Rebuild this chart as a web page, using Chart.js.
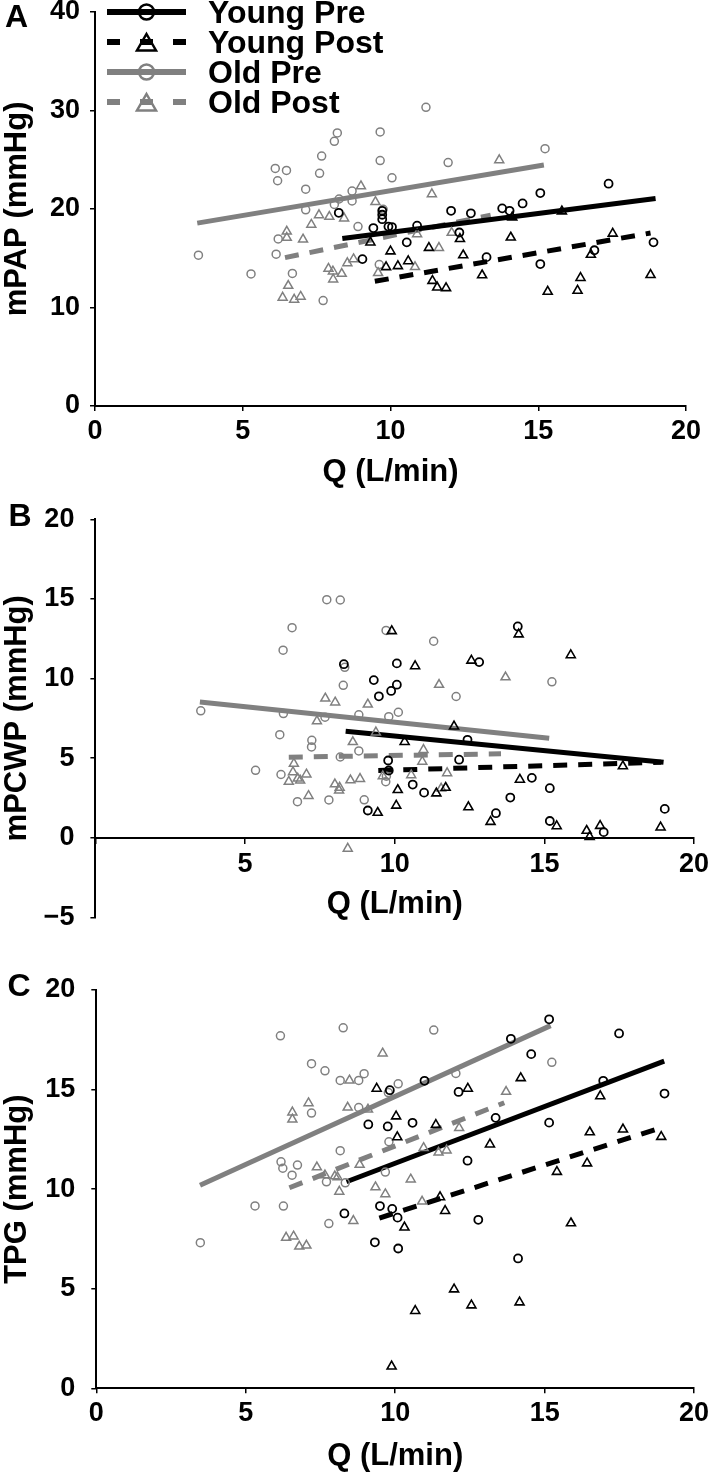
<!DOCTYPE html>
<html>
<head>
<meta charset="utf-8">
<script src="https://cdn.jsdelivr.net/npm/chart.js@4.4.1/dist/chart.umd.min.js"></script>
<style>
  html, body { margin: 0; padding: 0; background: #fff; overflow: hidden; }
  #wrap { position: relative; width: 709px; height: 1473px; }
  #wrap canvas { position: absolute; left: 0; }
</style>
</head>
<body>
<div id="wrap">
  <canvas id="chartA" width="709" height="488" style="top:0px"></canvas>
  <canvas id="chartB" width="709" height="480" style="top:480px"></canvas>
  <canvas id="chartC" width="709" height="512" style="top:960px"></canvas>
</div>
<script>
// series order: Young Pre, Young Post, Old Pre, Old Post
const seriesNames = ['Young Pre', 'Young Post', 'Old Pre', 'Old Post'];

// panel A - mPAP vs Q, points are [Q, value]
const mpapYoungPre = [[8.25,19.6],[9.05,14.9],[9.42,18.05],[9.72,19.8],[9.72,19.4],[9.72,18.95],[9.93,18.2],[10.05,18.15],[10.55,16.6],[10.9,18.3],[12.05,19.8],[12.33,17.6],[12.72,19.55],[13.25,15.1],[13.78,20.05],[14.03,19.8],[14.47,20.55],[15.07,21.6],[15.07,14.4],[16.9,15.8],[17.38,22.55],[18.9,16.6]];
const mpapYoungPost = [[9.32,16.6],[9.85,14.1],[10.0,15.7],[10.25,14.2],[10.6,14.7],[11.3,16.05],[11.42,12.7],[11.58,12.03],[11.88,11.97],[12.35,16.95],[12.46,15.3],[13.1,13.27],[14.07,17.1],[14.12,19.15],[15.32,11.6],[15.8,19.75],[16.33,11.7],[16.43,13.0],[16.78,15.35],[17.52,17.5],[18.8,13.3]];
const mpapOldPre = [[3.5,15.3],[5.28,13.4],[6.1,24.1],[6.18,22.85],[6.48,23.9],[6.2,16.95],[6.13,15.4],[6.68,13.45],[7.13,22.0],[7.13,19.9],[7.6,23.6],[7.67,25.35],[7.72,10.7],[8.1,26.85],[8.2,27.7],[8.1,20.45],[8.26,21.0],[8.7,21.8],[8.7,20.8],[8.9,18.2],[9.65,27.8],[9.65,24.9],[10.05,23.15],[9.62,14.35],[9.75,19.95],[11.2,30.3],[11.95,24.7],[15.23,26.1]];
const mpapOldPost = [[6.35,11.0],[6.54,12.2],[6.49,17.7],[6.49,17.07],[6.74,10.8],[6.96,11.1],[7.04,16.9],[7.32,18.4],[7.58,19.37],[7.93,19.2],[7.9,13.93],[8.05,13.66],[8.06,12.85],[8.35,13.42],[8.43,19.04],[8.54,14.5],[8.75,14.9],[9.0,22.3],[9.49,20.7],[9.58,13.5],[10.83,14.1],[10.9,17.44],[11.4,21.5],[11.64,16.05],[12.07,17.58],[13.68,24.95]];
// regression line ends
const mpapFitYoungPre = [[8.37,17.0],[18.97,21.05]];
const mpapFitYoungPost = [[9.47,12.65],[18.8,17.55]];
const mpapFitOldPre = [[3.46,18.55],[15.19,24.45]];
const mpapFitOldPost = [[6.43,15.05],[13.39,19.35]];

// panel B - mPCWP
const pcwpYoungPre = [[8.3,10.9],[9.3,9.9],[9.47,8.88],[9.88,9.22],[10.07,9.61],[10.07,10.95],[9.1,1.71],[9.78,4.85],[9.8,4.22],[10.6,3.34],[10.98,2.83],[12.43,6.15],[12.15,4.9],[12.82,11.03],[13.38,1.54],[13.86,2.52],[14.11,13.27],[14.58,3.76],[15.18,3.11],[15.18,1.05],[16.98,0.35],[19.02,1.81]];
const pcwpYoungPost = [[9.9,12.98],[10.68,10.78],[12.56,11.13],[14.14,12.78],[15.88,11.47],[11.98,6.99],[10.33,6.02],[10.1,3.0],[10.05,2.02],[9.43,1.57],[11.39,2.79],[11.7,3.14],[12.46,1.92],[13.2,1.0],[14.18,3.65],[15.41,0.73],[16.41,0.44],[16.51,0.06],[16.86,0.75],[17.62,4.49],[18.88,0.65]];
const pcwpOldPre = [[3.52,7.97],[5.35,4.23],[6.2,3.97],[6.16,6.47],[6.27,11.78],[6.57,13.19],[6.28,7.8],[6.75,2.26],[7.23,6.12],[7.22,5.7],[7.73,14.95],[8.18,14.93],[7.67,7.57],[7.8,2.37],[8.28,9.57],[8.33,10.7],[8.18,5.07],[8.8,7.72],[8.8,5.45],[8.98,2.38],[9.71,13.02],[9.8,7.6],[9.7,3.52],[9.72,3.86],[10.12,7.88],[11.3,12.34],[12.05,8.87],[15.25,9.79]];
const pcwpOldPost = [[7.68,8.75],[8.01,8.5],[9.1,8.37],[7.4,7.32],[9.37,6.62],[8.6,6.01],[6.63,4.65],[6.6,4.12],[6.46,3.52],[6.76,3.72],[6.84,3.6],[7.05,3.98],[7.12,2.63],[8.0,3.36],[8.16,3.15],[8.14,2.97],[8.52,3.61],[8.84,3.7],[9.6,3.87],[8.43,-0.68],[11.48,9.61],[13.7,10.08],[10.96,5.52],[10.92,4.78],[10.55,3.93],[11.55,3.09],[11.75,4.06]];
const pcwpFitYoungPre = [[8.36,6.69],[18.98,4.74]];
const pcwpFitYoungPost = [[9.45,4.22],[18.9,4.74]];
const pcwpFitOldPre = [[3.49,8.53],[15.16,6.25]];
const pcwpFitOldPost = [[6.46,5.06],[13.55,5.27]];

// panel C - TPG
const tpgYoungPre = [[8.3,8.78],[9.1,13.25],[9.32,7.33],[9.49,9.15],[9.75,13.15],[9.82,14.97],[9.9,9.01],[10.08,8.57],[10.1,7.02],[10.58,13.33],[10.98,15.44],[12.12,14.88],[12.42,11.43],[12.78,8.46],[13.36,13.58],[13.87,17.55],[14.11,6.52],[14.55,16.78],[15.15,18.53],[15.15,13.34],[16.96,15.44],[17.49,17.82],[19.01,14.8]];
const tpgYoungPost = [[9.38,15.05],[9.88,1.1],[10.03,13.66],[10.07,12.61],[10.31,8.08],[10.67,3.89],[11.36,13.23],[11.5,9.6],[11.67,8.91],[11.97,4.97],[12.43,15.05],[12.55,4.17],[13.17,12.25],[14.16,4.32],[14.2,15.58],[15.41,10.87],[15.88,8.29],[16.42,11.3],[16.51,12.86],[16.86,14.67],[17.62,13.0],[18.9,12.63]];
const tpgOldPre = [[3.48,7.31],[5.31,9.16],[6.26,9.15],[6.16,17.7],[6.18,11.37],[6.24,11.05],[6.55,10.7],[6.73,11.21],[7.2,16.3],[7.2,13.82],[7.65,15.94],[7.7,10.37],[7.78,8.27],[8.16,15.46],[8.26,18.1],[8.16,11.93],[8.33,10.32],[8.78,15.46],[8.96,15.8],[8.78,14.1],[9.67,10.86],[9.79,12.38],[10.1,15.29],[9.77,14.85],[11.29,17.99],[12.03,15.81],[15.24,16.37]];
const tpgOldPost = [[6.35,7.57],[6.6,7.63],[6.79,7.12],[7.03,7.17],[6.56,13.5],[6.56,13.86],[7.1,14.32],[7.38,11.1],[7.65,10.7],[7.98,10.65],[8.07,10.6],[8.13,9.88],[8.47,15.46],[8.41,14.1],[8.6,8.41],[8.81,11.23],[9.09,14.0],[9.34,10.1],[9.58,16.82],[9.67,9.75],[10.52,10.49],[10.9,9.38],[10.95,12.07],[11.45,11.84],[11.72,11.95],[12.14,13.07],[13.71,14.89]];
const tpgFitYoungPre = [[8.37,10.37],[19.0,16.43]];
const tpgFitYoungPost = [[9.47,8.55],[18.68,12.98]];
const tpgFitOldPre = [[3.47,10.2],[15.2,18.21]];
const tpgFitOldPost = [[6.46,10.07],[13.65,14.34]];

const FONT = "'Liberation Sans', Arial, Helvetica, sans-serif";
const BLACK = '#000000';
const GREY = '#808080';

const seriesStyles = [
  { color: BLACK, marker: 'circle', dashed: false, bw: 1.8 },
  { color: BLACK, marker: 'triangle', dashed: true, bw: 1.6 },
  { color: GREY, marker: 'circle', dashed: false, bw: 1.5 },
  { color: GREY, marker: 'triangle', dashed: true, bw: 1.5 }
];

function buildDatasets(points, fits) {
  const sets = [];
  points.forEach((pts, i) => {
    const st = seriesStyles[i];
    sets.push({
      label: seriesNames[i],
      data: pts.map(p => ({ x: p[0], y: p[1] })),
      showLine: false,
      pointStyle: st.marker,
      pointRadius: st.marker === 'circle' ? 4 : 5.2,
      pointBorderWidth: st.bw,
      pointBorderColor: st.color,
      pointBackgroundColor: 'rgba(0,0,0,0)',
      order: 0
    });
  });
  fits.forEach((f, i) => {
    const st = seriesStyles[i];
    sets.push({
      label: seriesNames[i] + ' fit',
      data: f.map(p => ({ x: p[0], y: p[1] })),
      showLine: true,
      borderColor: st.color,
      borderWidth: 5,
      borderDash: st.dashed ? [14, 11] : [],
      pointRadius: 0,
      order: 1
    });
  });
  return sets;
}

// legend drawn as line + marker + label, like the original figure
const lineLegend = {
  id: 'lineLegend',
  afterDraw(chart, args, opts) {
    if (!opts.show) return;
    const ctx = chart.ctx;
    ctx.save();
    seriesNames.forEach((name, i) => {
      const st = seriesStyles[i];
      const y = opts.y0 + i * opts.dy;
      const cx = (opts.x0 + opts.x1) / 2;
      ctx.strokeStyle = st.color;
      ctx.lineWidth = 6;
      ctx.setLineDash(st.dashed ? [13, 20] : []);
      ctx.beginPath();
      ctx.moveTo(opts.x0, y);
      ctx.lineTo(opts.x1, y);
      ctx.stroke();
      ctx.setLineDash([]);
      ctx.lineWidth = 2.5;
      ctx.beginPath();
      if (st.marker === 'circle') {
        ctx.arc(cx, y, 7.5, 0, Math.PI * 2);
      } else {
        const r = 11, cy = y + 3;
        ctx.moveTo(cx, cy - r);
        ctx.lineTo(cx + r * 0.866, cy + r / 2);
        ctx.lineTo(cx - r * 0.866, cy + r / 2);
        ctx.closePath();
      }
      ctx.stroke();
      ctx.fillStyle = '#000';
      ctx.font = 'bold 32px ' + FONT;
      ctx.textAlign = 'left';
      ctx.textBaseline = 'middle';
      ctx.fillText(name, opts.textX, y + 2);
    });
    ctx.restore();
  }
};

const panelLetter = {
  id: 'panelLetter',
  afterDraw(chart, args, opts) {
    const ctx = chart.ctx;
    ctx.save();
    ctx.fillStyle = '#000';
    ctx.font = 'bold 32px ' + FONT;
    ctx.textAlign = 'center';
    ctx.textBaseline = 'middle';
    ctx.fillText(opts.text, opts.x, opts.y);
    ctx.restore();
  }
};

function buildScales(p) {
  const tickFont = { family: FONT, size: 27, weight: 'bold' };
  const titleFont = { family: FONT, size: 31, weight: 'bold', lineHeight: 1 };
  const grid = { drawOnChartArea: false, drawTicks: true, tickLength: 5, color: '#000', lineWidth: 1.5 };
  const border = { display: true, color: '#000', width: 2 };
  return {
    x: {
      type: 'linear', min: 0, max: 20,
      position: p.xAtZero ? { y: 0 } : 'bottom',
      ticks: {
        stepSize: 5, color: '#000', font: tickFont, padding: p.xTickPad,
        maxRotation: 0, autoSkip: false,
        callback: v => (p.hideXZero && v === 0) ? '' : v
      },
      grid: grid,
      border: border,
      title: { display: true, text: 'Q (L/min)', color: '#000', font: titleFont, padding: 0 },
      afterFit: s => { s.height = p.xHeight; s.paddingLeft = 0; s.paddingRight = 0; }
    },
    y: {
      type: 'linear', min: p.yMin, max: p.yMax,
      ticks: {
        stepSize: p.yStep, color: '#000', font: tickFont, padding: p.yTickPad,
        callback: v => v < 0 ? '\u2212' + Math.abs(v) : v
      },
      grid: grid,
      border: border,
      title: { display: true, text: p.yTitle, color: '#000', font: titleFont, padding: { top: 2, bottom: 0 } },
      afterFit: s => { s.width = p.yWidth; s.paddingTop = 0; s.paddingBottom = 0; }
    }
  };
}

function makePanel(id, p, points, fits) {
  return new Chart(document.getElementById(id), {
    type: 'scatter',
    data: { datasets: buildDatasets(points, fits) },
    options: {
      responsive: false,
      animation: false,
      events: [],
      devicePixelRatio: 1,
      layout: { padding: { top: p.padTop, right: p.padRight, left: 0, bottom: p.padBottom || 0 } },
      scales: buildScales(p),
      plugins: {
        legend: { display: false },
        tooltip: { enabled: false },
        lineLegend: { show: !!p.legend, x0: 107, x1: 186, y0: 12, dy: 30, textX: 208 },
        panelLetter: { text: p.letter, x: p.letterX, y: p.letterY }
      }
    },
    plugins: [lineLegend, panelLetter]
  });
}

makePanel('chartA', {
  letter: 'A', letterX: 16.5, letterY: 18,
  yTitle: 'mPAP (mmHg)', yMin: 0, yMax: 40, yStep: 10,
  padTop: 11.7, padRight: 23, yWidth: 95, xHeight: 82,
  xTickPad: 4, yTickPad: 10, legend: true
}, [mpapYoungPre, mpapYoungPost, mpapOldPre, mpapOldPost],
   [mpapFitYoungPre, mpapFitYoungPost, mpapFitOldPre, mpapFitOldPost]);

// x axis sits at y = 0 here, so it takes no layout room: the bottom padding sets the -5 end
makePanel('chartB', {
  letter: 'B', letterX: 20, letterY: 37,
  yTitle: 'mPCWP (mmHg)', yMin: -5, yMax: 20, yStep: 5,
  padTop: 39.3, padRight: 14.9, padBottom: 42.7, yWidth: 95.4, xHeight: 82.7,
  xTickPad: 5.5, yTickPad: 16, xAtZero: true, hideXZero: true
}, [pcwpYoungPre, pcwpYoungPost, pcwpOldPre, pcwpOldPost],
   [pcwpFitYoungPre, pcwpFitYoungPost, pcwpFitOldPre, pcwpFitOldPost]);

makePanel('chartC', {
  letter: 'C', letterX: 19, letterY: 27,
  yTitle: 'TPG (mmHg)', yMin: 0, yMax: 20, yStep: 5,
  padTop: 30, padRight: 14.9, yWidth: 96.3, xHeight: 83.7,
  xTickPad: 4, yTickPad: 16
}, [tpgYoungPre, tpgYoungPost, tpgOldPre, tpgOldPost],
   [tpgFitYoungPre, tpgFitYoungPost, tpgFitOldPre, tpgFitOldPost]);
</script>
</body>
</html>
